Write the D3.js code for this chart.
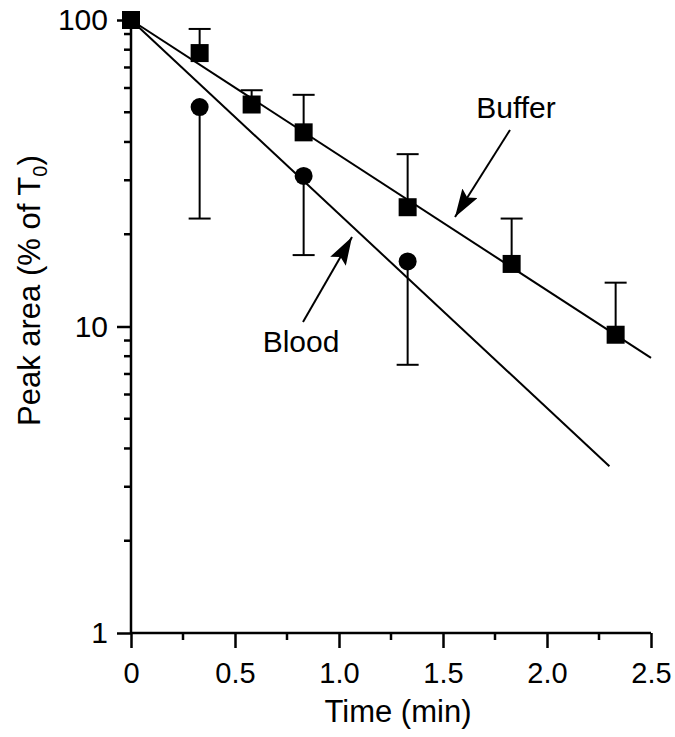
<!DOCTYPE html>
<html>
<head>
<meta charset="utf-8">
<script src="https://cdn.jsdelivr.net/npm/d3@7"></script>
<style>
  body { margin: 0; background: #fff; }
  text { font-family: "Liberation Sans", Arial, Helvetica, sans-serif; fill: #000; }
</style>
</head>
<body>
<div id="chart"></div>
<script>
// data
var bufferTime = [0, 0.33, 0.58, 0.83, 1.33, 1.83, 2.33];
var bufferArea = [100, 78, 53, 43, 24.5, 16, 9.4];
var bufferUpper = [null, 93.5, 59, 57, 36.5, 22.5, 13.9];

var bloodTime = [0, 0.33, 0.83, 1.33];
var bloodArea = [100, 52, 31, 16.3];
var bloodLower = [null, 22.5, 17.1, 7.5];

// fitted lines (start and end points)
var bufferFit = [[0, 100], [2.5, 7.9]];
var bloodFit = [[0, 100], [2.3, 3.5]];

var xTicks = [0, 0.5, 1.0, 1.5, 2.0, 2.5];
var xTickLabels = ["0", "0.5", "1.0", "1.5", "2.0", "2.5"];
var xMinor = [0.25, 0.75, 1.25, 1.75, 2.25];
var yTicks = [1, 10, 100];
var yMinor = [2, 3, 4, 5, 6, 7, 8, 9, 20, 30, 40, 50, 60, 70, 80, 90];

var width = 675, height = 737;
var margin = {left: 131, top: 20, right: 24, bottom: 104};
var fs = 29;      // tick labels
var fsTitle = 31; // axis titles
var fsNote = 30;  // annotations

document.addEventListener('DOMContentLoaded', function () {
  draw();
}, false);

function draw() {
  var svg = d3.select("#chart")
    .append("svg")
    .attr("width", width)
    .attr("height", height);

  var x = d3.scaleLinear()
    .domain([0, 2.5])
    .range([margin.left, width - margin.right]);

  var y = d3.scaleLog()
    .domain([1, 100])
    .range([height - margin.bottom, margin.top]);

  var line = d3.line()
    .x(function(d){ return x(d[0]); })
    .y(function(d){ return y(d[1]); });

  // fit lines
  svg.selectAll("path.fit")
    .data([bufferFit, bloodFit])
    .enter()
    .append("path")
    .attr("class", "fit")
    .attr("d", line)
    .attr("fill", "none")
    .attr("stroke", "#000")
    .attr("stroke-width", 2);

  var bufferData = bufferTime.map(function(t, i){
    return {t: t, v: bufferArea[i], e: bufferUpper[i]};
  });
  var bloodData = bloodTime.map(function(t, i){
    return {t: t, v: bloodArea[i], e: bloodLower[i]};
  });

  // error bars (buffer upper, blood lower)
  var errs = bufferData.concat(bloodData).filter(function(d){ return d.e != null; });
  var eb = svg.selectAll("g.err")
    .data(errs)
    .enter()
    .append("g")
    .attr("class", "err")
    .attr("stroke", "#000")
    .attr("stroke-width", 2);
  eb.append("line")
    .attr("x1", function(d){ return x(d.t); })
    .attr("x2", function(d){ return x(d.t); })
    .attr("y1", function(d){ return y(d.v); })
    .attr("y2", function(d){ return y(d.e); });
  eb.append("line")
    .attr("x1", function(d){ return x(d.t) - 11; })
    .attr("x2", function(d){ return x(d.t) + 11; })
    .attr("y1", function(d){ return y(d.e); })
    .attr("y2", function(d){ return y(d.e); });

  // markers
  svg.selectAll("rect.buf")
    .data(bufferData)
    .enter()
    .append("rect")
    .attr("class", "buf")
    .attr("x", function(d){ return x(d.t) - 9; })
    .attr("y", function(d){ return y(d.v) - 9; })
    .attr("width", 18)
    .attr("height", 18)
    .attr("fill", "#000");

  svg.selectAll("circle.blood")
    .data(bloodData.slice(1))
    .enter()
    .append("circle")
    .attr("class", "blood")
    .attr("cx", function(d){ return x(d.t); })
    .attr("cy", function(d){ return y(d.v); })
    .attr("r", 9)
    .attr("fill", "#000");

  // axes
  var xAxis = svg.append("g")
    .attr("transform", "translate(0," + (height - margin.bottom) + ")");
  xAxis.call(d3.axisBottom(x).tickValues(xTicks).tickSize(15).tickPadding(14)
      .tickFormat(function(d, i){ return xTickLabels[i]; }))
    .call(function(g){
      g.select(".domain").attr("stroke-width", 2.5).attr("d", "M" + x(0) + ",0H" + x(2.5));
      g.selectAll(".tick line").attr("stroke-width", 2.5);
      g.selectAll(".tick text").attr("font-size", fs)
        .style("font-family", "Liberation Sans, Arial, sans-serif");
    });
  xAxis.selectAll("line.minor")
    .data(xMinor)
    .enter()
    .append("line")
    .attr("class", "minor")
    .attr("x1", function(d){ return x(d); })
    .attr("x2", function(d){ return x(d); })
    .attr("y1", 0)
    .attr("y2", 7)
    .attr("stroke", "#000")
    .attr("stroke-width", 2.5);

  var yAxis = svg.append("g")
    .attr("transform", "translate(" + margin.left + ",0)");
  yAxis.call(d3.axisLeft(y).tickValues(yTicks).tickSize(14).tickPadding(9)
      .tickFormat(d3.format("d")))
    .call(function(g){
      g.select(".domain").attr("stroke-width", 2.5).attr("d", "M0," + y(1) + "V" + y(100));
      g.selectAll(".tick line").attr("stroke-width", 2.5);
      g.selectAll(".tick text").attr("font-size", fs + 1)
        .style("font-family", "Liberation Sans, Arial, sans-serif");
    });
  yAxis.selectAll("line.minor")
    .data(yMinor)
    .enter()
    .append("line")
    .attr("class", "minor")
    .attr("x1", 0)
    .attr("x2", -7)
    .attr("y1", function(d){ return y(d); })
    .attr("y2", function(d){ return y(d); })
    .attr("stroke", "#000")
    .attr("stroke-width", 2.5);

  // axis titles
  svg.append("text")
    .attr("x", 398)
    .attr("y", 722)
    .attr("text-anchor", "middle")
    .attr("font-size", fsTitle)
    .text("Time (min)");

  var yt = svg.append("text")
    .attr("transform", "translate(40,426) rotate(-90)")
    .attr("text-anchor", "start")
    .attr("font-size", fsTitle);
  yt.append("tspan").text("Peak area (% of T");
  yt.append("tspan").attr("font-size", 20).attr("dy", 7).text("0");
  yt.append("tspan").attr("dy", -7).text(")");

  // annotations
  svg.append("defs").append("marker")
    .attr("id", "arrow")
    .attr("viewBox", "0 0 28 18")
    .attr("refX", 28).attr("refY", 9)
    .attr("markerWidth", 28).attr("markerHeight", 18)
    .attr("markerUnits", "userSpaceOnUse")
    .attr("orient", "auto")
    .append("path")
    .attr("d", "M0,0 L28,9 L0,18 L5,9 Z")
    .attr("fill", "#000");

  var notes = [
    {label: "Buffer", tx: 516, ty: 118, x1: 510, y1: 130, x2: 455, y2: 217},
    {label: "Blood", tx: 301, ty: 352, x1: 303, y1: 322, x2: 352, y2: 237}
  ];
  svg.selectAll("line.arrow")
    .data(notes)
    .enter()
    .append("line")
    .attr("class", "arrow")
    .attr("x1", function(d){ return d.x1; })
    .attr("y1", function(d){ return d.y1; })
    .attr("x2", function(d){ return d.x2; })
    .attr("y2", function(d){ return d.y2; })
    .attr("stroke", "#000")
    .attr("stroke-width", 2)
    .attr("marker-end", "url(#arrow)");
  svg.selectAll("text.note")
    .data(notes)
    .enter()
    .append("text")
    .attr("class", "note")
    .attr("x", function(d){ return d.tx; })
    .attr("y", function(d){ return d.ty; })
    .attr("text-anchor", "middle")
    .attr("font-size", fsNote)
    .text(function(d){ return d.label; });
}
</script>
</body>
</html>
